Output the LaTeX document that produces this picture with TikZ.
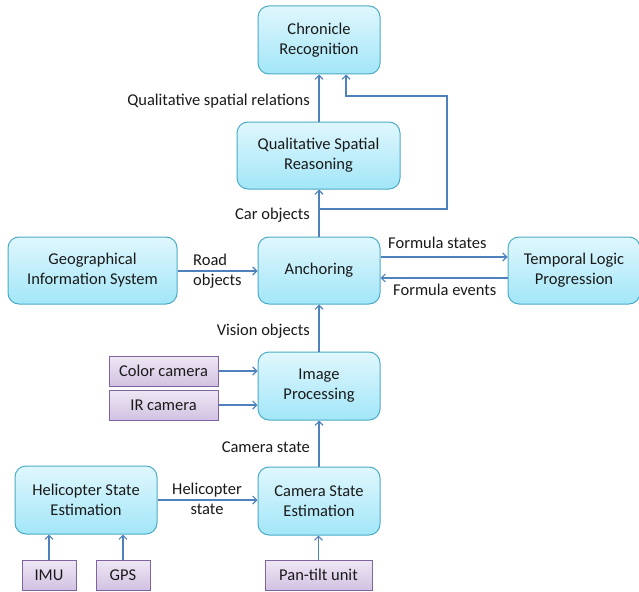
\documentclass[tikz,border=0pt]{standalone}
\usepackage{fontspec}
\setmainfont{Carlito}
\usetikzlibrary{arrows.meta}
\definecolor{bfillT}{HTML}{E0F7FD}
\definecolor{bfillB}{HTML}{A2E6F8}
\definecolor{bdraw}{HTML}{4BACC6}
\definecolor{pfillT}{HTML}{EEE7F4}
\definecolor{pfillB}{HTML}{D2C2E2}
\definecolor{pdraw}{HTML}{8064A2}
\definecolor{arrc}{HTML}{4F81BD}
\definecolor{txt}{HTML}{1A1A1A}
\tikzset{
  procbox/.style={draw=bdraw, line width=1pt, rounded corners=11pt, top color=bfillT, bottom color=bfillB, align=center, inner sep=0pt, text=txt},
  sensbox/.style={draw=pdraw, line width=1pt, top color=pfillT, bottom color=pfillB, align=center, inner sep=0pt, text=txt, minimum height=30pt},
  arr/.style={draw=arrc, line width=1.1pt, -{Straight Barb[length=4pt,width=8pt]}},
  lbl/.style={inner sep=0pt, text=txt, align=center},
}
\begin{document}
\begin{tikzpicture}[x=1pt,y=-1pt, font=\fontsize{16.5}{20}\selectfont]
\useasboundingbox[fill=white] (0,0) rectangle (639,591);
% process boxes
\node[procbox, minimum width=122pt, minimum height=68pt] (chron) at (319,40) {Chronicle\\Recognition};
\node[procbox, minimum width=163pt, minimum height=67pt] (qsr) at (318.5,155.5) {Qualitative Spatial\\Reasoning};
\node[procbox, minimum width=122pt, minimum height=67pt] (anch) at (319,270.5) {Anchoring};
\node[procbox, minimum width=169pt, minimum height=67pt] (gis) at (92.5,270.5) {Geographical\\Information System};
\node[procbox, minimum width=132pt, minimum height=67pt] (tlp) at (574,270.5) {Temporal Logic\\Progression};
\node[procbox, minimum width=122pt, minimum height=68pt] (ip) at (319,386) {Image\\Processing};
\node[procbox, minimum width=122pt, minimum height=68pt] (cse) at (319,501) {Camera State\\Estimation};
\node[procbox, minimum width=142pt, minimum height=68pt] (hse) at (86,500) {Helicopter State\\Estimation};
% sensor boxes
\node[sensbox, minimum width=109pt] (colcam) at (163.5,371) {Color camera};
\node[sensbox, minimum width=109pt] (ircam) at (163.5,405) {IR camera};
\node[sensbox, minimum width=54pt] (imu) at (49,575) {IMU};
\node[sensbox, minimum width=54pt] (gps) at (123,575) {GPS};
\node[sensbox, minimum width=107pt] (pan) at (318.5,575) {Pan-tilt unit};
% connectors
\draw[arr] (qsr.north -| chron.south) -- (chron.south);
\draw[arr] (anch.north) -- (qsr.south -| anch.north);
\coordinate (j) at (anch.north |- 0,209);
\coordinate (k) at (447,96);
\draw[arr] (j) -| (k) -| ([xshift=27pt]chron.south);
\draw[arr] (gis.east |- 0,271) -- (anch.west |- 0,271);
\draw[arr] (anch.east |- 0,257) -- (tlp.west |- 0,257);
\draw[arr] (tlp.west |- 0,278) -- (anch.east |- 0,278);
\draw[arr] (ip.north) -- (anch.south);
\draw[arr] (colcam.east) -- (ip.west |- colcam.east);
\draw[arr] (ircam.east) -- (ip.west |- ircam.east);
\draw[arr] (cse.north) -- (ip.south);
\draw[arr] (hse.east) -- (cse.west |- hse.east);
\draw[arr] (imu.north) -- (imu.north |- hse.south);
\draw[arr] (gps.north) -- (gps.north |- hse.south);
\draw[arr] (pan.north) -- (pan.north |- cse.south);
% labels
\node[lbl, anchor=east] (l1) at (310,101) {Qualitative spatial relations};
\node[lbl, anchor=east] (l2) at (310,215) {Car objects};
\node[lbl, align=left, anchor=west] (l3) at (193,271) {Road\\objects};
\node[lbl, anchor=west] (l4) at (388,243) {Formula states};
\node[lbl, anchor=west] (l5) at (393,290) {Formula events};
\node[lbl, anchor=east] (l6) at (310,331) {Vision objects};
\node[lbl, anchor=east] (l7) at (310,447) {Camera state};
\node[lbl] (l8) at (207,499) {Helicopter\\state};
\end{tikzpicture}
\end{document}
